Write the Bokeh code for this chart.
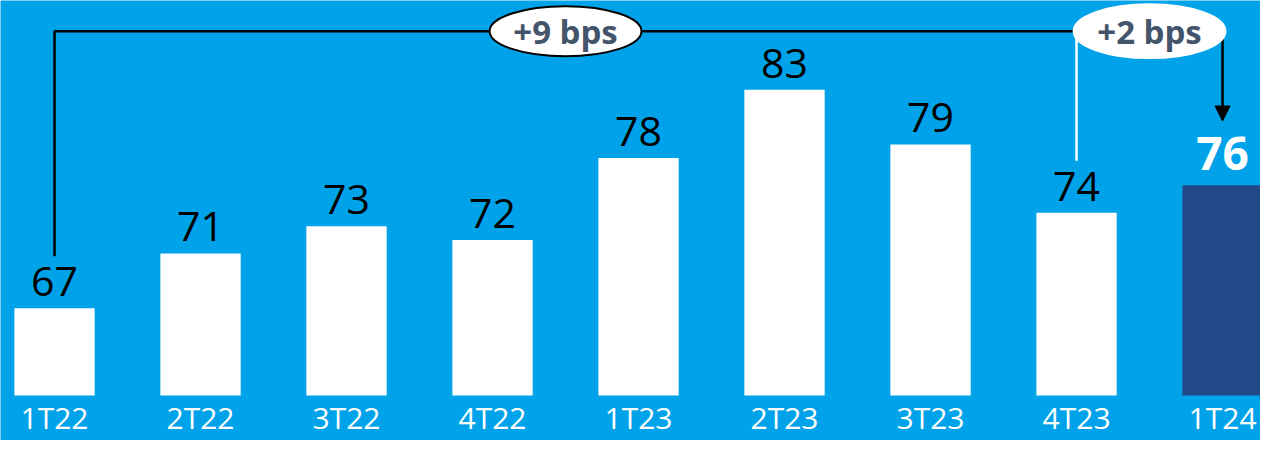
from bokeh.plotting import figure
from bokeh.models import Range1d, Arrow, NormalHead
from bokeh.core.properties import value
from bokeh.embed import file_html
from bokeh.resources import INLINE

# ---- data ----
categories = ["1T22", "2T22", "3T22", "4T22", "1T23", "2T23", "3T23", "4T23", "1T24"]
values = [67, 71, 73, 72, 78, 83, 79, 74, 76]
changes = ["+9 bps", "+2 bps"]

# ---- styling / layout constants ----
BG = "#00A3EA"
NAVY = "#22488A"
BPS_COLOR = "#44546A"
FONT = "Open Sans"
Y_BASE = 60.6
Y_MIN, Y_MAX = 57.3, 89.55
X_MIN, X_MAX = -0.37, 8.26
BRACKET_Y = 87.3
LABEL_GAP = 1.95
LAST_GAP = 2.3
CAT_Y = 58.95
LINE_GAP = 3.8
ARROW_GAP = 4.72

x = list(range(len(categories)))
n = len(categories)
bar_colors = ["#FFFFFF"] * (n - 1) + [NAVY]

p = figure(width=1260, height=440,
           x_range=Range1d(X_MIN, X_MAX), y_range=Range1d(Y_MIN, Y_MAX),
           output_backend="svg", toolbar_location=None, min_border=0,
           x_axis_location=None, y_axis_location=None)
p.grid.visible = False
p.outline_line_color = None
p.background_fill_color = BG
p.border_fill_color = BG

# bars
p.vbar(x=x, bottom=Y_BASE, top=values, width=0.55, fill_color=bar_colors, line_color=None)

# value labels (regular)
p.text(x=x[:-1], y=[v + LABEL_GAP for v in values[:-1]], text=[str(v) for v in values[:-1]],
       text_font=value(FONT), text_font_size="41px", text_color="black",
       text_align="center", text_baseline="middle")
# highlighted last value
p.text(x=[x[-1]], y=[values[-1] + LAST_GAP], text=[str(values[-1])],
       text_font=value(FONT), text_font_size="46px", text_font_style="bold",
       text_color="white", text_align="center", text_baseline="middle")

# category labels
p.text(x=x, y=[CAT_Y] * n, text=categories,
       text_font=value(FONT), text_font_size="30px", text_color="white",
       text_align="center", text_baseline="middle")

# bracket lines
i_prev = n - 2
p.line(x=[x[0], x[0], x[i_prev]], y=[values[0] + LINE_GAP, BRACKET_Y, BRACKET_Y],
       line_color="black", line_width=2.5)
p.line(x=[x[i_prev], x[i_prev]], y=[BRACKET_Y, values[i_prev] + LINE_GAP],
       line_color="white", line_width=2.5)

arrow = Arrow(end=NormalHead(size=15, fill_color="black", line_color="black"),
              x_start=x[-1], y_start=BRACKET_Y, x_end=x[-1], y_end=values[-1] + ARROW_GAP,
              line_color="black", line_width=2.5, level="underlay")
p.add_layout(arrow)

# change bubbles
ex = [(x[0] + x[i_prev]) / 2, (x[i_prev] + x[-1]) / 2]
p.ellipse(x=ex, y=[BRACKET_Y] * 2, width=[1.04, 1.04], height=[3.67, 3.95],
          fill_color="white", line_color=["black", "white"], line_width=2)
p.text(x=ex, y=[BRACKET_Y] * 2, text=changes,
       text_font=value(FONT), text_font_size="33px", text_font_style="bold",
       text_color=BPS_COLOR, text_align="center", text_baseline="middle")

open("out.html", "w").write(file_html(p, INLINE))
